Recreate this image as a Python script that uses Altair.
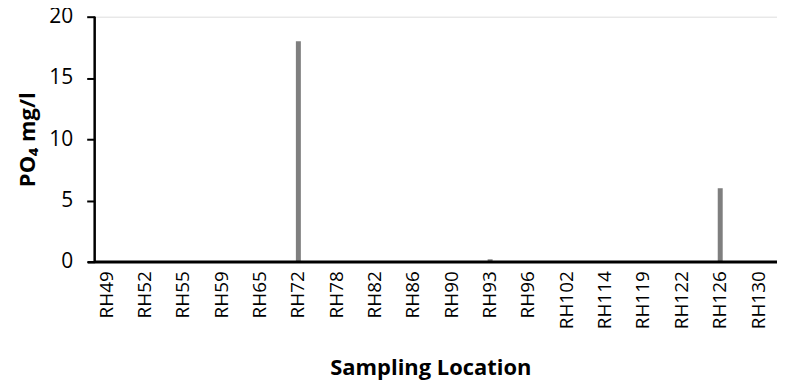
import altair as alt
import pandas as pd

locations = ["RH49", "RH52", "RH55", "RH59", "RH65", "RH72", "RH78", "RH82", "RH86",
             "RH90", "RH93", "RH96", "RH102", "RH114", "RH119", "RH122", "RH126", "RH130"]
po4 = [0, 0, 0, 0, 0.02, 18, 0.02, 0.03, 0.03, 0.02, 0.2, 0, 0, 0, 0, 0, 6.0, 0]
y_ticks = [0, 5, 10, 15, 20]

df = pd.DataFrame({"loc": locations, "po4": po4})

W, H = 685, 246
FONT = "Open Sans"

x_enc = alt.X(
    "loc:N",
    sort=locations,
    scale=alt.Scale(range=[-7.25, 685.75], paddingInner=0, paddingOuter=0),
    axis=alt.Axis(
        title="Sampling Location",
        labelAngle=-90,
        labelPadding=9,
        labelFontSize=19,
        labelFont=FONT,
        labelColor="black",
        domain=True,
        domainColor="black",
        domainWidth=2.5,
        ticks=False,
        titleFont=FONT,
        titleFontSize=22,
        titleFontWeight="bold",
        titleColor="black",
        titleX=337,
        titleY=106,
        titleBaseline="middle",
        titleAlign="center",
    ),
)

bars = alt.Chart(df).mark_bar(size=5, color="#7f7f7f").encode(
    x=x_enc,
    y=alt.Y(
        "po4:Q",
        scale=alt.Scale(domain=[0, 20], nice=False),
        axis=alt.Axis(
            title="PO₄ mg/l",
            values=y_ticks,
            grid=False,
            domain=False,
            tickColor="black",
            tickWidth=2,
            tickSize=8,
            labelPadding=14,
            labelFont=FONT,
            labelFontSize=21,
            labelColor="black",
            titleFont=FONT,
            titleFontSize=22,
            titleFontWeight="bold",
            titleColor="black",
            titleAngle=270,
            titleX=-67,
            titleY=123,
            titleAlign="center",
            titleBaseline="middle",
        ),
    ),
)

xline = alt.Chart(pd.DataFrame({"z": [0]})).mark_rule(color="black", strokeWidth=2.5).encode(
    x=alt.value(0), x2=alt.value(W), y=alt.value(H)
)
yline = alt.Chart(pd.DataFrame({"z": [0]})).mark_rule(color="black", strokeWidth=2.5).encode(
    x=alt.value(0), y=alt.value(0), y2=alt.value(H)
)

chart = (
    alt.layer(bars, xline, yline)
    .properties(
        width=W,
        height=H,
        autosize=alt.AutoSizeParams(type="none"),
        padding={"left": 87, "top": 8, "right": 0, "bottom": 123},
    )
    .configure_view(stroke=None)
    .configure(background="white")
)

chart.save("out.html", embed_options={"renderer": "svg", "actions": False})
